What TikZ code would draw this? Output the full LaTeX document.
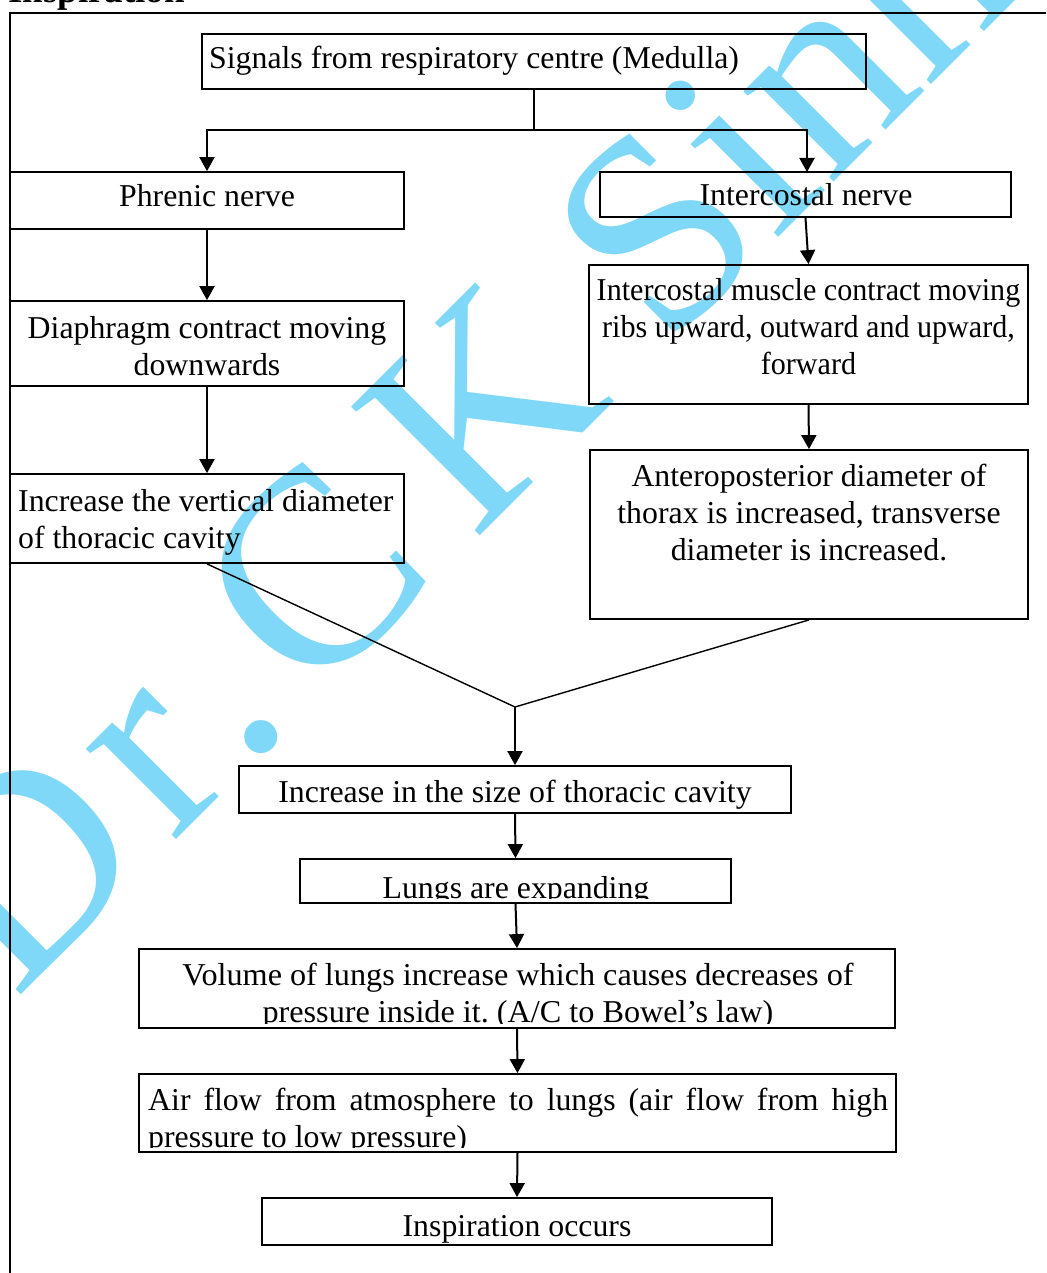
\documentclass[tikz,border=0pt]{standalone}
\usepackage{fontspec}
\setmainfont{Liberation Serif}
\usetikzlibrary{arrows.meta}
\definecolor{wm}{RGB}{128,216,248}
\frenchspacing
\tikzset{
  box/.style={draw, line width=1.8pt, rectangle, inner sep=0pt},
  txt/.style={font=\fontsize{31.8}{37}\selectfont, inner sep=0pt},
  ctxt/.style={txt, text width=600pt, align=flush center},
  arr/.style={line width=2pt, -{Triangle[length=14pt,width=15pt]}},
  conn/.style={line width=2pt},
  diag/.style={line width=1.4pt},
  frame/.style={line width=1.8pt}
}
\begin{document}
\begin{tikzpicture}[x=1pt,y=-1pt]
\useasboundingbox (0,0) rectangle (1046,1273);
\clip (0,0) rectangle (1046,1273);
% watermark
\node[anchor=base west, rotate=45, inner sep=0pt, text=wm,
      font=\fontsize{278}{280}\selectfont] (wmark) at (15,1001)
      {D\kern22pt r\kern10pt.\kern-47pt\ C\kern47pt K Sinha};
% heading (cut at top)
\node[anchor=base west, inner sep=0pt, font=\bfseries\fontsize{37}{40}\selectfont] (head) at (8,3) {Inspiration};
% frame
\draw[frame] (10,1273) -- (10,13) -- (1046,13);
% boxes
\node[box, minimum width=664pt, minimum height=55pt] (sig) at (534,61.5) {};
\node[box, minimum width=394pt, minimum height=57pt] (phr) at (207,200.5) {};
\node[box, minimum width=411pt, minimum height=45pt] (ic) at (805.5,194.5) {};
\node[box, minimum width=394pt, minimum height=85pt] (dia) at (207,343.5) {};
\node[box, minimum width=439pt, minimum height=139pt] (icm) at (808.5,334.5) {};
\node[box, minimum width=394pt, minimum height=89pt] (vert) at (207,518.5) {};
\node[box, minimum width=438pt, minimum height=169pt] (ant) at (809,534.5) {};
\node[box, minimum width=552pt, minimum height=47pt] (size) at (515,789.5) {};
\node[box, minimum width=431pt, minimum height=44pt] (lung) at (515.5,881) {};
\node[box, minimum width=756pt, minimum height=79pt] (vol) at (517,988.5) {};
\node[box, minimum width=757pt, minimum height=78pt] (air) at (517.5,1113) {};
\node[box, minimum width=510pt, minimum height=47pt] (insp) at (517,1221.5) {};
% texts
\node[txt, anchor=base west] (sigt) at (209,69) {Signals from respiratory centre (Medulla)};
\node[txt, anchor=base] (phrt) at (207,207) {Phrenic nerve};
\node[txt, anchor=base] (ict) at (806,206) {Intercostal nerve};
\node[ctxt, anchor=base] (diat) at (207,338) {Diaphragm contract moving\\downwards};
\node[ctxt, anchor=base, xscale=0.946, transform shape] (icmt) at (808.5,300) {Intercostal muscle contract moving\\ribs upward, outward and upward,\\forward};
\node[txt, anchor=base west, text width=420pt, align=flush left] (vertt) at (18,511) {Increase the vertical diameter\\of thoracic cavity};
\node[ctxt, anchor=base] (antt) at (809,486) {Anteroposterior diameter of\\thorax is increased, transverse\\diameter is increased.};
\node[txt, anchor=base] (sizet) at (515,802) {Increase in the size of thoracic cavity};
\begin{scope}
  \clip (300,859) rectangle (731,898.5);
  \node[txt, anchor=base] (lungt) at (516,898) {Lungs are expanding};
\end{scope}
\begin{scope}
  \clip (139,949) rectangle (895,1023.5);
  \node[txt, anchor=base, text width=756pt, align=flush center, xscale=1.013, transform shape] (volt) at (518,985) {Volume of lungs increase which causes decreases of\\pressure inside it. (A/C to Bowel's law)};
\end{scope}
\begin{scope}
  \clip (139,1074) rectangle (896,1147);
  \node[txt, anchor=base west, text width=740pt, align=flush left] (airt) at (148,1110) {\hbox to 740pt{Air\hfill flow\hfill from\hfill atmosphere\hfill to\hfill lungs\hfill (air\hfill flow\hfill from\hfill high}\\pressure to low pressure)};
\end{scope}
\node[txt, anchor=base] (inspt) at (517,1236) {Inspiration occurs};
% connectors
\coordinate (split) at (534,130);
\draw[conn] (sig.south) -- (split);
\draw[arr] (split) -| (phr.north);
\draw[arr] (split) -| (807,172);
\draw[arr] (ic.south) -- (icm.north);
\draw[arr] (icm.south) -- (ant.north);
\draw[arr] (phr.south) -- (dia.north);
\draw[arr] (dia.south) -- (vert.north);
\coordinate (merge) at (515,707);
\draw[diag] (vert.south) -- (merge);
\draw[diag] (ant.south) -- (merge);
\draw[arr] (merge) -- (size.north);
\draw[arr] (size.south) -- (lung.north);
\draw[arr] (lung.south) -- (vol.north);
\draw[arr] (vol.south) -- (air.north);
\draw[arr] (air.south) -- (insp.north);
\end{tikzpicture}
\end{document}
